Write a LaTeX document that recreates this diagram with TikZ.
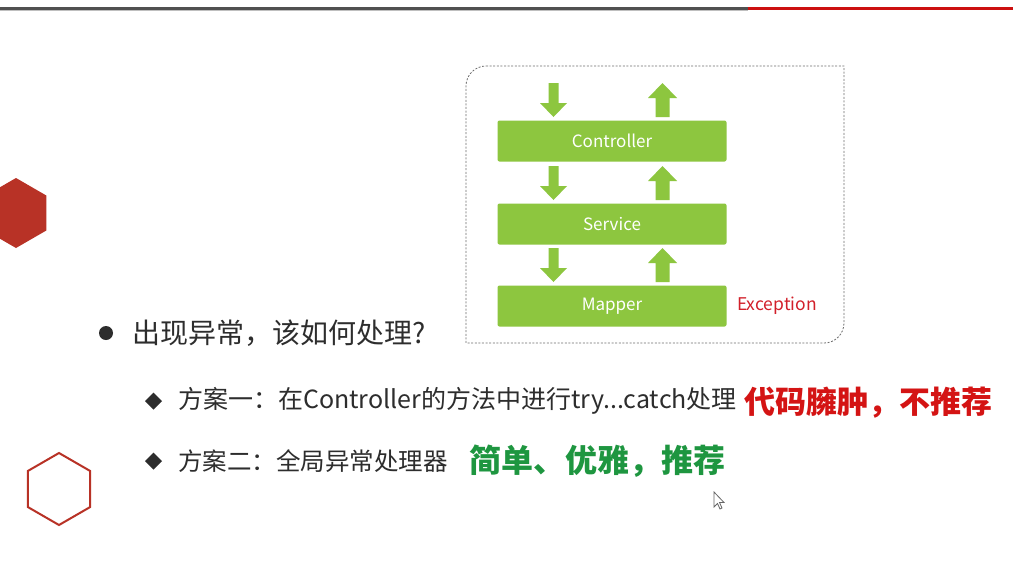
\documentclass[tikz,border=0pt]{standalone}
\usepackage{fontspec}
\setmainfont{Noto Sans CJK SC}
\newfontfamily\cjk{Noto Sans CJK SC}
\usetikzlibrary{shapes.geometric}
\definecolor{leaf}{RGB}{141,198,63}
\definecolor{hexred}{RGB}{184,50,38}
\definecolor{barred}{RGB}{204,16,16}
\definecolor{bargray}{RGB}{80,80,80}
\definecolor{txt}{RGB}{45,45,45}
\definecolor{excred}{RGB}{210,32,42}
\definecolor{hwred}{RGB}{212,20,20}
\definecolor{hwgreen}{RGB}{30,150,64}
\definecolor{dashgray}{RGB}{110,110,110}
\tikzset{
  layer/.style={fill=leaf, rounded corners=2, minimum width=229, minimum height=41,
    inner sep=0, text=white, font=\cjk\fontsize{17}{19}\selectfont},
  bodytext/.style={anchor=west, inner sep=0, text=txt},
  downarr/.pic={\fill[leaf] (-5,0) -- (5,0) -- (5,20) -- (13.5,20) -- (0,34) -- (-13.5,20) -- (-5,20) -- cycle;},
  uparr/.pic={\fill[leaf] (0,0) -- (14.5,15) -- (7,15) -- (7,34) -- (-7,34) -- (-7,15) -- (-14.5,15) -- cycle;}
}
\begin{document}
\begin{tikzpicture}[x=1pt,y=-1pt]
\useasboundingbox (0,0) rectangle (1024,571);
\fill[white] (0,0) rectangle (1024,571);
% top bar
\fill[bargray] (0,7) rectangle (748,10);
\fill[black!25] (0,10) rectangle (748,11);
\fill[barred] (748,7) rectangle (1013,10);
% hexagons
\fill[hexred] (16,178) -- (46.3,195.5) -- (46.3,230.5) -- (16,248) -- (-14.3,230.5) -- (-14.3,195.5) -- cycle;
\draw[hexred, line width=2] (59,453) -- (90.2,471) -- (90.2,507) -- (59,525) -- (27.8,507) -- (27.8,471) -- cycle;
% dashed frame
\draw[dashgray, dashed, dash pattern=on 2pt off 1.6pt, line width=0.8]
  (486,66) -- (844,66) -- (844,323) arc[start angle=0, end angle=90, radius=20]
  -- (466,343) -- (466,86) arc[start angle=180, end angle=270, radius=20] -- cycle;
% layers
\node[layer] (ctrl) at (612,141) {Controller};
\node[layer] (serv) at (612,224) {Service};
\node[layer] (mapp) at (612,306) {Mapper};
\node[anchor=west, inner sep=0, text=excred, font=\cjk\fontsize{17.5}{19}\selectfont] (exc) at (737,306) {Exception};
% block arrows
\pic at (553.5,83) {downarr};
\pic at (662.5,83) {uparr};
\pic at (553.5,166) {downarr};
\pic at (662.5,166) {uparr};
\pic at (553.5,248) {downarr};
\pic at (662.5,248) {uparr};
% bullets
\fill[txt] (106,333) circle (7);
\fill[txt] (153.5,392.5) -- (162,401) -- (153.5,409.5) -- (145,401) -- cycle;
\fill[txt] (153.5,452.5) -- (162,461) -- (153.5,469.5) -- (145,461) -- cycle;
% texts
\node[bodytext, font=\cjk\fontsize{28}{30}\selectfont] (q) at (132,333) {出现异常，该如何处理?};
\node[bodytext, font=\cjk\fontsize{25}{28}\selectfont] (p1) at (178,401) {方案一：在Controller的方法中进行try...catch处理};
\node[bodytext, font=\cjk\fontsize{24.5}{28}\selectfont] (p2) at (178,461) {方案二：全局异常处理器};
\node[anchor=west, inner sep=0, text=hwred, font=\cjk\bfseries\fontsize{31}{33}\selectfont] (n1) at (744,403) {代码臃肿，不推荐};
\node[anchor=west, inner sep=0, text=hwgreen, font=\cjk\bfseries\fontsize{32}{34}\selectfont] (n2) at (469,461) {简单、优雅，推荐};
% cursor
\draw[black!60, fill=white, line width=0.8] (714,492) -- (714,507) -- (717.5,503.5) -- (720,509) -- (722,508) -- (719.5,502.5) -- (724,502.5) -- cycle;
\end{tikzpicture}
\end{document}
